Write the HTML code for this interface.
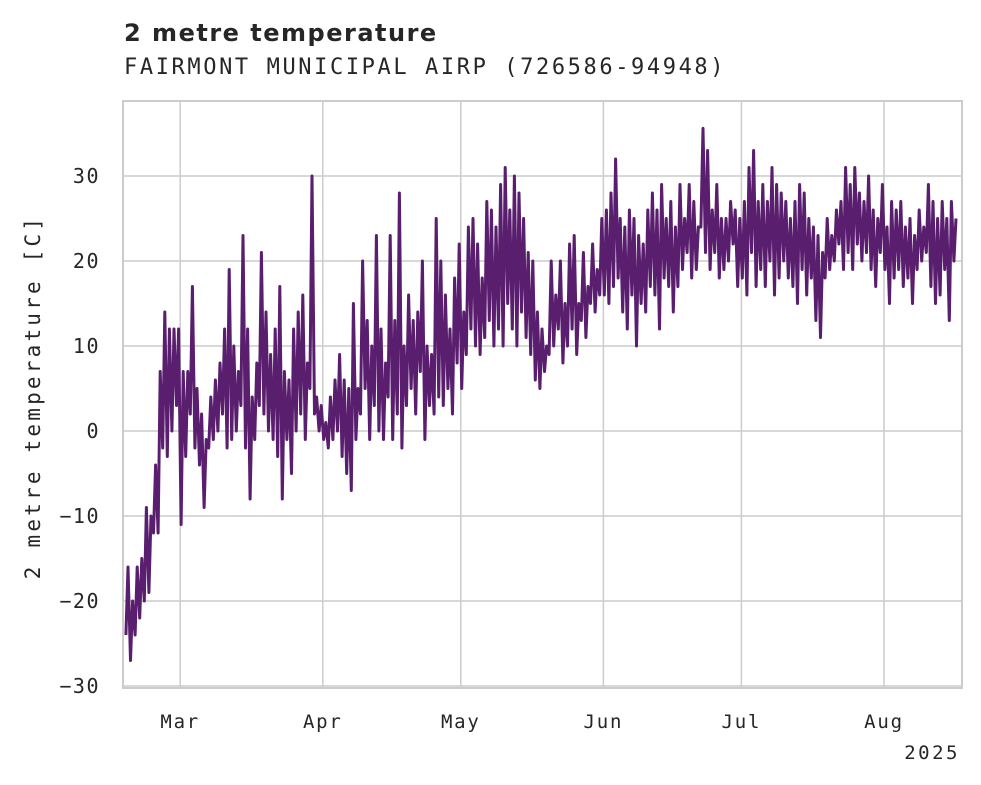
<!DOCTYPE html>
<html><head><meta charset="utf-8"><style>
body{margin:0;background:#fff;}
svg{display:block;}
</style></head><body>
<svg id="c" width="981" height="785" xmlns="http://www.w3.org/2000/svg">
<text x="124" y="41" font-family="DejaVu Sans, sans-serif" font-weight="bold" font-size="24" letter-spacing="1.5" fill="#262626">2 metre temperature</text>
<text x="124" y="74" font-family="DejaVu Sans Mono, Liberation Mono, monospace" font-size="22" letter-spacing="2.6" fill="#262626">FAIRMONT MUNICIPAL AIRP (726586-94948)</text>
<text transform="translate(40,397) rotate(-90)" text-anchor="middle" font-family="DejaVu Sans Mono, Liberation Mono, monospace" font-size="21" letter-spacing="3.2" fill="#262626">2 metre temperature [C]</text>
<g id="grid"></g>
<g id="series"></g>
<rect x="123" y="101" width="839" height="587" fill="none" stroke="#ccc" stroke-width="2"/>
<text x="960" y="759" text-anchor="end" font-family="DejaVu Sans Mono, Liberation Mono, monospace" font-size="19" letter-spacing="2.5" fill="#262626">2025</text>
</svg>
<script>
const yTicks=[-30,-20,-10,0,10,20,30];
const monthLabels=["Mar","Apr","May","Jun","Jul","Aug"];
const monthDays=[12,43,73,104,134,165];
const dailyLow=[-24,-27,-24,-22,-20,-19,-12,-12,-2,-3,0,3,
-11,-3,2,-2,-4,-9,-2,-1,0,2,-2,-1,0,3,-2,-8,-1,3,2,0,-1,-3,-8,-1,-5,0,2,-1,5,2,0,-1,
-2,-1,0,-3,-5,-7,-1,2,5,-1,3,0,-1,4,-1,2,-2,3,5,2,7,-1,3,2,4,3,5,2,8,
5,9,12,10,9,11,13,10,12,10,15,12,10,14,11,9,6,5,7,9,10,12,8,10,12,9,13,11,15,14,16,
16,15,17,18,14,12,16,10,15,14,17,16,12,18,17,14,17,19,21,18,19,24,21,19,21,18,19,20,22,17,
18,16,21,17,19,17,20,16,18,20,18,17,15,19,16,18,13,11,18,19,20,22,19,21,19,22,20,21,19,17,21,
19,15,18,19,17,18,15,19,20,21,17,15,16,19,13,20];
const dailyHigh=[-16,-20,-16,-15,-9,-10,-4,7,14,12,12,12,
7,7,17,5,2,-1,4,6,8,12,19,10,7,23,12,4,8,21,14,9,12,17,7,6,12,14,16,8,30,4,3,1,
4,6,9,6,5,15,5,20,13,10,23,12,8,23,13,28,10,16,13,14,20,10,9,25,20,16,12,18,22,
14,24,25,22,18,27,26,24,29,31,26,30,28,25,21,20,14,12,10,20,16,20,15,22,23,15,21,17,22,19,25,
26,28,32,25,24,26,25,23,22,26,28,26,29,25,27,24,29,25,29,27,24,35.6,33,26,29,25,25,27,26,25,
27,31,33,27,29,27,31,29,28,27,25,27,29,28,25,24,23,21,25,23,26,27,31,29,31,28,27,30,26,25,29,
24,27,26,27,24,25,23,26,24,29,27,25,27,25,27,25];
const X0=125,PXD=4.6;
const xDay=d=>X0+d*PXD;
const yVal=v=>431-8.5*v;
const NS="http://www.w3.org/2000/svg";
const grid=document.getElementById('grid'),ser=document.getElementById('series');
yTicks.forEach(t=>{
 const l=document.createElementNS(NS,'line');
 l.setAttribute('x1',123);l.setAttribute('x2',962);l.setAttribute('y1',yVal(t));l.setAttribute('y2',yVal(t));
 l.setAttribute('stroke','#ccc');l.setAttribute('stroke-width','1.5');
 
 
 grid.appendChild(l);
 const tx=document.createElementNS(NS,'text');
 tx.setAttribute('x',100);tx.setAttribute('y',yVal(t)+7);tx.setAttribute('text-anchor','end');
 tx.setAttribute('font-family','DejaVu Sans Mono, Liberation Mono, monospace');tx.setAttribute('font-size','20');tx.setAttribute('letter-spacing','1.5');tx.setAttribute('fill','#262626');
 tx.textContent=(t<0?'\u2212'+(-t):t);
 
 
 grid.appendChild(tx);
});
monthDays.forEach((d,i)=>{
 const x=xDay(d);
 const l=document.createElementNS(NS,'line');
 l.setAttribute('x1',x);l.setAttribute('x2',x);l.setAttribute('y1',101);l.setAttribute('y2',688);
 l.setAttribute('stroke','#ccc');l.setAttribute('stroke-width','1.5');
 
 
 grid.appendChild(l);
 const tx=document.createElementNS(NS,'text');
 tx.setAttribute('x',x);tx.setAttribute('y',728);tx.setAttribute('text-anchor','middle');
 tx.setAttribute('font-family','DejaVu Sans Mono, Liberation Mono, monospace');tx.setAttribute('font-size','19');tx.setAttribute('letter-spacing','1.8');tx.setAttribute('fill','#262626');
 tx.textContent=monthLabels[i];
 
 
 grid.appendChild(tx);
});
let pts=[];
for(let d=0;d<dailyLow.length;d++){
 pts.push(xDay(d+0.2).toFixed(1)+','+yVal(dailyLow[d]).toFixed(1));
 pts.push(xDay(d+0.65).toFixed(1)+','+yVal(dailyHigh[d]).toFixed(1));
}
const p=document.createElementNS(NS,'polyline');
p.setAttribute('points',pts.join(' '));
p.setAttribute('fill','none');p.setAttribute('stroke','#5a1e6e');p.setAttribute('stroke-width','3');p.setAttribute('stroke-linejoin','round');


ser.appendChild(p);
</script>
</body></html>
